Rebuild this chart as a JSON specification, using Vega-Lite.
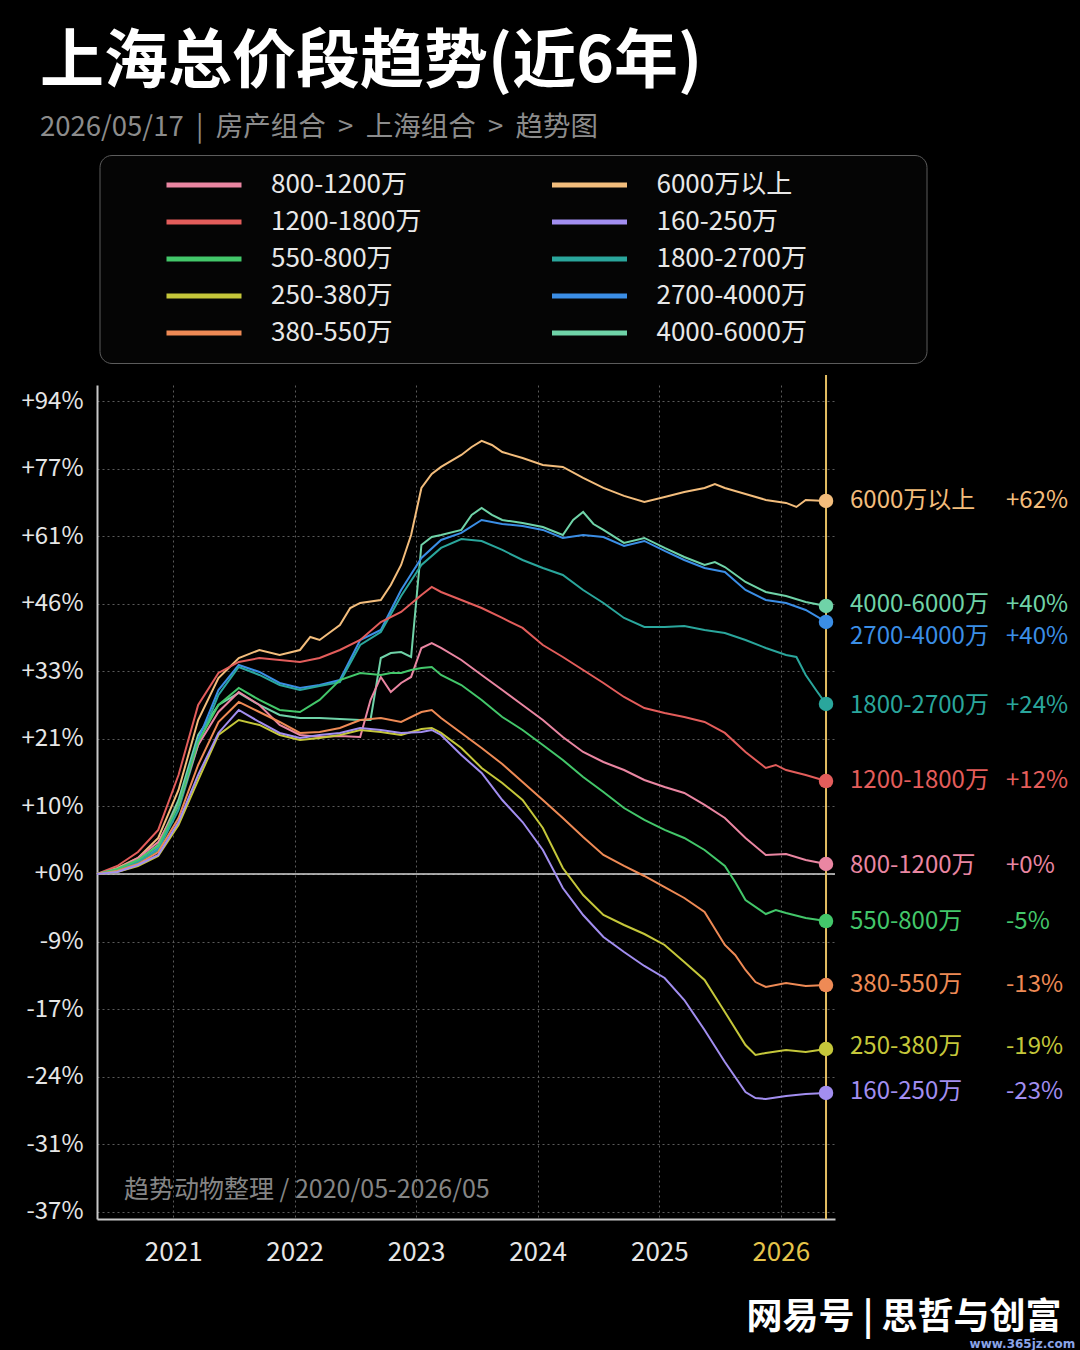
{
  "$schema": "https://vega.github.io/schema/vega-lite/v6.json",
  "description": "上海总价段趋势(近6年) - price index by total-price band, log scale",
  "background": "#000000",
  "autosize": {"type": "none"},
  "padding": {"left": 97, "top": 385, "right": 245, "bottom": 131},
  "width": 738,
  "height": 834,
  "title": {
    "text": "上海总价段趋势(近6年)",
    "subtitle": "2026/05/17\u00a0\u00a0|\u00a0\u00a0房产组合\u00a0\u00a0>\u00a0\u00a0上海组合\u00a0\u00a0>\u00a0\u00a0趋势图",
    "anchor": "start",
    "frame": "group",
    "dx": -57,
    "offset": 13,
    "font": "Noto Sans CJK SC",
    "fontSize": 64,
    "fontWeight": "bold",
    "color": "#ffffff",
    "subtitleFont": "Noto Sans CJK SC",
    "subtitleFontSize": 27.5,
    "subtitleColor": "#8c8c8c",
    "subtitlePadding": 19
  },
  "config": {
    "view": {"stroke": null},
    "font": "Noto Sans CJK SC",
    "axis": {
      "gridColor": "#5a5a5a",
      "gridDash": [2, 3],
      "gridWidth": 1,
      "domainColor": "#c8c8c8",
      "domainWidth": 2,
      "ticks": false,
      "labelFont": "Noto Sans CJK SC",
      "labelColor": "#e6e6e6",
      "title": null
    }
  },
  "datasets": {
    "series": [
      {"s": "6000万以上", "d": "2020-05-17", "v": 1.0},
      {"s": "6000万以上", "d": "2020-07-17", "v": 1.0085},
      {"s": "6000万以上", "d": "2020-09-17", "v": 1.0228},
      {"s": "6000万以上", "d": "2020-11-17", "v": 1.0521},
      {"s": "6000万以上", "d": "2021-01-17", "v": 1.1258},
      {"s": "6000万以上", "d": "2021-03-17", "v": 1.2427},
      {"s": "6000万以上", "d": "2021-05-17", "v": 1.3186},
      {"s": "6000万以上", "d": "2021-07-17", "v": 1.3563},
      {"s": "6000万以上", "d": "2021-09-17", "v": 1.3717},
      {"s": "6000万以上", "d": "2021-11-17", "v": 1.3621},
      {"s": "6000万以上", "d": "2022-01-17", "v": 1.3717},
      {"s": "6000万以上", "d": "2022-02-17", "v": 1.3971},
      {"s": "6000万以上", "d": "2022-03-17", "v": 1.3912},
      {"s": "6000万以上", "d": "2022-05-17", "v": 1.4209},
      {"s": "6000万以上", "d": "2022-06-17", "v": 1.4554},
      {"s": "6000万以上", "d": "2022-07-17", "v": 1.4658},
      {"s": "6000万以上", "d": "2022-09-17", "v": 1.472},
      {"s": "6000万以上", "d": "2022-10-17", "v": 1.5035},
      {"s": "6000万以上", "d": "2022-11-17", "v": 1.5465},
      {"s": "6000万以上", "d": "2022-12-17", "v": 1.6134},
      {"s": "6000万以上", "d": "2023-01-17", "v": 1.7241},
      {"s": "6000万以上", "d": "2023-02-17", "v": 1.7584},
      {"s": "6000万以上", "d": "2023-03-17", "v": 1.776},
      {"s": "6000万以上", "d": "2023-05-17", "v": 1.8063},
      {"s": "6000万以上", "d": "2023-06-17", "v": 1.8267},
      {"s": "6000万以上", "d": "2023-07-17", "v": 1.8423},
      {"s": "6000万以上", "d": "2023-08-17", "v": 1.8319},
      {"s": "6000万以上", "d": "2023-09-17", "v": 1.8138},
      {"s": "6000万以上", "d": "2023-11-17", "v": 1.7986},
      {"s": "6000万以上", "d": "2024-01-17", "v": 1.781},
      {"s": "6000万以上", "d": "2024-03-17", "v": 1.776},
      {"s": "6000万以上", "d": "2024-05-17", "v": 1.7487},
      {"s": "6000万以上", "d": "2024-07-17", "v": 1.7241},
      {"s": "6000万以上", "d": "2024-09-17", "v": 1.7048},
      {"s": "6000万以上", "d": "2024-11-17", "v": 1.6903},
      {"s": "6000万以上", "d": "2025-01-17", "v": 1.7023},
      {"s": "6000万以上", "d": "2025-03-17", "v": 1.7144},
      {"s": "6000万以上", "d": "2025-05-17", "v": 1.7241},
      {"s": "6000万以上", "d": "2025-06-17", "v": 1.7338},
      {"s": "6000万以上", "d": "2025-07-17", "v": 1.7241},
      {"s": "6000万以上", "d": "2025-09-17", "v": 1.7096},
      {"s": "6000万以上", "d": "2025-11-17", "v": 1.6952},
      {"s": "6000万以上", "d": "2026-01-17", "v": 1.688},
      {"s": "6000万以上", "d": "2026-02-17", "v": 1.6785},
      {"s": "6000万以上", "d": "2026-03-17", "v": 1.6952},
      {"s": "6000万以上", "d": "2026-05-17", "v": 1.6927},

      {"s": "4000-6000万", "d": "2020-05-17", "v": 1.0},
      {"s": "4000-6000万", "d": "2020-07-17", "v": 1.0071},
      {"s": "4000-6000万", "d": "2020-09-17", "v": 1.02},
      {"s": "4000-6000万", "d": "2020-11-17", "v": 1.0418},
      {"s": "4000-6000万", "d": "2021-01-17", "v": 1.11},
      {"s": "4000-6000万", "d": "2021-03-17", "v": 1.2167},
      {"s": "4000-6000万", "d": "2021-05-17", "v": 1.2693},
      {"s": "4000-6000万", "d": "2021-07-17", "v": 1.291},
      {"s": "4000-6000万", "d": "2021-09-17", "v": 1.2693},
      {"s": "4000-6000万", "d": "2021-11-17", "v": 1.2515},
      {"s": "4000-6000万", "d": "2022-01-17", "v": 1.2462},
      {"s": "4000-6000万", "d": "2022-03-17", "v": 1.2462},
      {"s": "4000-6000万", "d": "2022-05-17", "v": 1.2445},
      {"s": "4000-6000万", "d": "2022-07-17", "v": 1.2427},
      {"s": "4000-6000万", "d": "2022-08-17", "v": 1.2427},
      {"s": "4000-6000万", "d": "2022-09-17", "v": 1.3563},
      {"s": "4000-6000万", "d": "2022-10-17", "v": 1.3659},
      {"s": "4000-6000万", "d": "2022-11-17", "v": 1.3678},
      {"s": "4000-6000万", "d": "2022-12-17", "v": 1.3582},
      {"s": "4000-6000万", "d": "2023-01-17", "v": 1.5908},
      {"s": "4000-6000万", "d": "2023-02-17", "v": 1.6088},
      {"s": "4000-6000万", "d": "2023-03-17", "v": 1.6134},
      {"s": "4000-6000万", "d": "2023-05-17", "v": 1.6249},
      {"s": "4000-6000万", "d": "2023-06-17", "v": 1.6597},
      {"s": "4000-6000万", "d": "2023-07-17", "v": 1.6761},
      {"s": "4000-6000万", "d": "2023-08-17", "v": 1.6597},
      {"s": "4000-6000万", "d": "2023-09-17", "v": 1.6478},
      {"s": "4000-6000万", "d": "2023-11-17", "v": 1.6409},
      {"s": "4000-6000万", "d": "2024-01-17", "v": 1.6316},
      {"s": "4000-6000万", "d": "2024-03-17", "v": 1.6134},
      {"s": "4000-6000万", "d": "2024-04-17", "v": 1.6478},
      {"s": "4000-6000万", "d": "2024-05-17", "v": 1.6666},
      {"s": "4000-6000万", "d": "2024-06-17", "v": 1.6386},
      {"s": "4000-6000万", "d": "2024-07-17", "v": 1.6249},
      {"s": "4000-6000万", "d": "2024-09-17", "v": 1.5953},
      {"s": "4000-6000万", "d": "2024-11-17", "v": 1.6066},
      {"s": "4000-6000万", "d": "2025-01-17", "v": 1.5841},
      {"s": "4000-6000万", "d": "2025-03-17", "v": 1.5641},
      {"s": "4000-6000万", "d": "2025-05-17", "v": 1.5465},
      {"s": "4000-6000万", "d": "2025-06-17", "v": 1.553},
      {"s": "4000-6000万", "d": "2025-07-17", "v": 1.5421},
      {"s": "4000-6000万", "d": "2025-09-17", "v": 1.5099},
      {"s": "4000-6000万", "d": "2025-11-17", "v": 1.4887},
      {"s": "4000-6000万", "d": "2026-01-17", "v": 1.4804},
      {"s": "4000-6000万", "d": "2026-03-17", "v": 1.4679},
      {"s": "4000-6000万", "d": "2026-05-17", "v": 1.4596},

      {"s": "2700-4000万", "d": "2020-05-17", "v": 1.0},
      {"s": "2700-4000万", "d": "2020-07-17", "v": 1.0056},
      {"s": "2700-4000万", "d": "2020-09-17", "v": 1.0171},
      {"s": "2700-4000万", "d": "2020-11-17", "v": 1.0374},
      {"s": "2700-4000万", "d": "2021-01-17", "v": 1.1023},
      {"s": "2700-4000万", "d": "2021-03-17", "v": 1.2082},
      {"s": "2700-4000万", "d": "2021-05-17", "v": 1.2964},
      {"s": "2700-4000万", "d": "2021-07-17", "v": 1.343},
      {"s": "2700-4000万", "d": "2021-09-17", "v": 1.3298},
      {"s": "2700-4000万", "d": "2021-11-17", "v": 1.3093},
      {"s": "2700-4000万", "d": "2022-01-17", "v": 1.3001},
      {"s": "2700-4000万", "d": "2022-03-17", "v": 1.3056},
      {"s": "2700-4000万", "d": "2022-05-17", "v": 1.3148},
      {"s": "2700-4000万", "d": "2022-07-17", "v": 1.3912},
      {"s": "2700-4000万", "d": "2022-09-17", "v": 1.411},
      {"s": "2700-4000万", "d": "2022-11-17", "v": 1.4929},
      {"s": "2700-4000万", "d": "2023-01-17", "v": 1.5619},
      {"s": "2700-4000万", "d": "2023-03-17", "v": 1.6021},
      {"s": "2700-4000万", "d": "2023-05-17", "v": 1.618},
      {"s": "2700-4000万", "d": "2023-07-17", "v": 1.6478},
      {"s": "2700-4000万", "d": "2023-09-17", "v": 1.6386},
      {"s": "2700-4000万", "d": "2023-11-17", "v": 1.634},
      {"s": "2700-4000万", "d": "2024-01-17", "v": 1.6249},
      {"s": "2700-4000万", "d": "2024-03-17", "v": 1.6066},
      {"s": "2700-4000万", "d": "2024-05-17", "v": 1.6134},
      {"s": "2700-4000万", "d": "2024-07-17", "v": 1.6088},
      {"s": "2700-4000万", "d": "2024-09-17", "v": 1.5886},
      {"s": "2700-4000万", "d": "2024-11-17", "v": 1.5998},
      {"s": "2700-4000万", "d": "2025-01-17", "v": 1.5774},
      {"s": "2700-4000万", "d": "2025-03-17", "v": 1.5575},
      {"s": "2700-4000万", "d": "2025-05-17", "v": 1.54},
      {"s": "2700-4000万", "d": "2025-07-17", "v": 1.5313},
      {"s": "2700-4000万", "d": "2025-09-17", "v": 1.4929},
      {"s": "2700-4000万", "d": "2025-11-17", "v": 1.472},
      {"s": "2700-4000万", "d": "2026-01-17", "v": 1.4658},
      {"s": "2700-4000万", "d": "2026-03-17", "v": 1.4514},
      {"s": "2700-4000万", "d": "2026-05-17", "v": 1.427},

      {"s": "1800-2700万", "d": "2020-05-17", "v": 1.0},
      {"s": "1800-2700万", "d": "2020-07-17", "v": 1.0056},
      {"s": "1800-2700万", "d": "2020-09-17", "v": 1.0171},
      {"s": "1800-2700万", "d": "2020-11-17", "v": 1.0345},
      {"s": "1800-2700万", "d": "2021-01-17", "v": 1.0945},
      {"s": "1800-2700万", "d": "2021-03-17", "v": 1.1996},
      {"s": "1800-2700万", "d": "2021-05-17", "v": 1.2874},
      {"s": "1800-2700万", "d": "2021-07-17", "v": 1.3392},
      {"s": "1800-2700万", "d": "2021-09-17", "v": 1.3242},
      {"s": "1800-2700万", "d": "2021-11-17", "v": 1.3056},
      {"s": "1800-2700万", "d": "2022-01-17", "v": 1.2964},
      {"s": "1800-2700万", "d": "2022-03-17", "v": 1.3038},
      {"s": "1800-2700万", "d": "2022-05-17", "v": 1.3111},
      {"s": "1800-2700万", "d": "2022-07-17", "v": 1.3814},
      {"s": "1800-2700万", "d": "2022-09-17", "v": 1.407},
      {"s": "1800-2700万", "d": "2022-11-17", "v": 1.4804},
      {"s": "1800-2700万", "d": "2023-01-17", "v": 1.5465},
      {"s": "1800-2700万", "d": "2023-03-17", "v": 1.5841},
      {"s": "1800-2700万", "d": "2023-05-17", "v": 1.6043},
      {"s": "1800-2700万", "d": "2023-07-17", "v": 1.5998},
      {"s": "1800-2700万", "d": "2023-09-17", "v": 1.5797},
      {"s": "1800-2700万", "d": "2023-11-17", "v": 1.5575},
      {"s": "1800-2700万", "d": "2024-01-17", "v": 1.54},
      {"s": "1800-2700万", "d": "2024-03-17", "v": 1.5249},
      {"s": "1800-2700万", "d": "2024-05-17", "v": 1.4929},
      {"s": "1800-2700万", "d": "2024-07-17", "v": 1.4658},
      {"s": "1800-2700万", "d": "2024-09-17", "v": 1.4351},
      {"s": "1800-2700万", "d": "2024-11-17", "v": 1.417},
      {"s": "1800-2700万", "d": "2025-01-17", "v": 1.417},
      {"s": "1800-2700万", "d": "2025-03-17", "v": 1.419},
      {"s": "1800-2700万", "d": "2025-05-17", "v": 1.411},
      {"s": "1800-2700万", "d": "2025-07-17", "v": 1.405},
      {"s": "1800-2700万", "d": "2025-09-17", "v": 1.3912},
      {"s": "1800-2700万", "d": "2025-11-17", "v": 1.3756},
      {"s": "1800-2700万", "d": "2026-01-17", "v": 1.3621},
      {"s": "1800-2700万", "d": "2026-02-17", "v": 1.3582},
      {"s": "1800-2700万", "d": "2026-03-17", "v": 1.3242},
      {"s": "1800-2700万", "d": "2026-04-17", "v": 1.2964},
      {"s": "1800-2700万", "d": "2026-05-17", "v": 1.2711},

      {"s": "1200-1800万", "d": "2020-05-17", "v": 1.0},
      {"s": "1200-1800万", "d": "2020-07-17", "v": 1.0114},
      {"s": "1200-1800万", "d": "2020-09-17", "v": 1.0315},
      {"s": "1200-1800万", "d": "2020-11-17", "v": 1.0641},
      {"s": "1200-1800万", "d": "2021-01-17", "v": 1.1499},
      {"s": "1200-1800万", "d": "2021-03-17", "v": 1.2693},
      {"s": "1200-1800万", "d": "2021-05-17", "v": 1.3279},
      {"s": "1200-1800万", "d": "2021-07-17", "v": 1.3487},
      {"s": "1200-1800万", "d": "2021-09-17", "v": 1.3563},
      {"s": "1200-1800万", "d": "2021-11-17", "v": 1.3525},
      {"s": "1200-1800万", "d": "2022-01-17", "v": 1.3487},
      {"s": "1200-1800万", "d": "2022-03-17", "v": 1.3563},
      {"s": "1200-1800万", "d": "2022-05-17", "v": 1.3717},
      {"s": "1200-1800万", "d": "2022-07-17", "v": 1.3912},
      {"s": "1200-1800万", "d": "2022-09-17", "v": 1.427},
      {"s": "1200-1800万", "d": "2022-11-17", "v": 1.4473},
      {"s": "1200-1800万", "d": "2023-01-17", "v": 1.4825},
      {"s": "1200-1800万", "d": "2023-02-17", "v": 1.4993},
      {"s": "1200-1800万", "d": "2023-03-17", "v": 1.4887},
      {"s": "1200-1800万", "d": "2023-05-17", "v": 1.472},
      {"s": "1200-1800万", "d": "2023-07-17", "v": 1.4554},
      {"s": "1200-1800万", "d": "2023-09-17", "v": 1.4351},
      {"s": "1200-1800万", "d": "2023-11-17", "v": 1.415},
      {"s": "1200-1800万", "d": "2024-01-17", "v": 1.3814},
      {"s": "1200-1800万", "d": "2024-03-17", "v": 1.3582},
      {"s": "1200-1800万", "d": "2024-05-17", "v": 1.3335},
      {"s": "1200-1800万", "d": "2024-07-17", "v": 1.3093},
      {"s": "1200-1800万", "d": "2024-09-17", "v": 1.2837},
      {"s": "1200-1800万", "d": "2024-11-17", "v": 1.2639},
      {"s": "1200-1800万", "d": "2025-01-17", "v": 1.2551},
      {"s": "1200-1800万", "d": "2025-03-17", "v": 1.248},
      {"s": "1200-1800万", "d": "2025-05-17", "v": 1.2392},
      {"s": "1200-1800万", "d": "2025-07-17", "v": 1.2202},
      {"s": "1200-1800万", "d": "2025-09-17", "v": 1.1878},
      {"s": "1200-1800万", "d": "2025-11-17", "v": 1.1614},
      {"s": "1200-1800万", "d": "2025-12-17", "v": 1.1663},
      {"s": "1200-1800万", "d": "2026-01-17", "v": 1.158},
      {"s": "1200-1800万", "d": "2026-03-17", "v": 1.1499},
      {"s": "1200-1800万", "d": "2026-05-17", "v": 1.1402},

      {"s": "800-1200万", "d": "2020-05-17", "v": 1.0},
      {"s": "800-1200万", "d": "2020-07-17", "v": 1.0071},
      {"s": "800-1200万", "d": "2020-09-17", "v": 1.0228},
      {"s": "800-1200万", "d": "2020-11-17", "v": 1.0462},
      {"s": "800-1200万", "d": "2021-01-17", "v": 1.1023},
      {"s": "800-1200万", "d": "2021-03-17", "v": 1.1996},
      {"s": "800-1200万", "d": "2021-05-17", "v": 1.2568},
      {"s": "800-1200万", "d": "2021-07-17", "v": 1.2928},
      {"s": "800-1200万", "d": "2021-09-17", "v": 1.2693},
      {"s": "800-1200万", "d": "2021-11-17", "v": 1.234},
      {"s": "800-1200万", "d": "2022-01-17", "v": 1.2167},
      {"s": "800-1200万", "d": "2022-03-17", "v": 1.2133},
      {"s": "800-1200万", "d": "2022-05-17", "v": 1.215},
      {"s": "800-1200万", "d": "2022-07-17", "v": 1.2133},
      {"s": "800-1200万", "d": "2022-08-17", "v": 1.2783},
      {"s": "800-1200万", "d": "2022-09-17", "v": 1.3205},
      {"s": "800-1200万", "d": "2022-10-17", "v": 1.2928},
      {"s": "800-1200万", "d": "2022-11-17", "v": 1.3093},
      {"s": "800-1200万", "d": "2022-12-17", "v": 1.3205},
      {"s": "800-1200万", "d": "2023-01-17", "v": 1.3756},
      {"s": "800-1200万", "d": "2023-02-17", "v": 1.3853},
      {"s": "800-1200万", "d": "2023-03-17", "v": 1.3756},
      {"s": "800-1200万", "d": "2023-05-17", "v": 1.3525},
      {"s": "800-1200万", "d": "2023-07-17", "v": 1.3242},
      {"s": "800-1200万", "d": "2023-09-17", "v": 1.2964},
      {"s": "800-1200万", "d": "2023-11-17", "v": 1.2693},
      {"s": "800-1200万", "d": "2024-01-17", "v": 1.2427},
      {"s": "800-1200万", "d": "2024-03-17", "v": 1.2133},
      {"s": "800-1200万", "d": "2024-05-17", "v": 1.1878},
      {"s": "800-1200万", "d": "2024-07-17", "v": 1.1712},
      {"s": "800-1200万", "d": "2024-09-17", "v": 1.158},
      {"s": "800-1200万", "d": "2024-11-17", "v": 1.1418},
      {"s": "800-1200万", "d": "2025-01-17", "v": 1.1306},
      {"s": "800-1200万", "d": "2025-03-17", "v": 1.1211},
      {"s": "800-1200万", "d": "2025-05-17", "v": 1.1023},
      {"s": "800-1200万", "d": "2025-07-17", "v": 1.0822},
      {"s": "800-1200万", "d": "2025-09-17", "v": 1.0521},
      {"s": "800-1200万", "d": "2025-11-17", "v": 1.0272},
      {"s": "800-1200万", "d": "2026-01-17", "v": 1.0286},
      {"s": "800-1200万", "d": "2026-03-17", "v": 1.02},
      {"s": "800-1200万", "d": "2026-05-17", "v": 1.0142},

      {"s": "550-800万", "d": "2020-05-17", "v": 1.0},
      {"s": "550-800万", "d": "2020-07-17", "v": 1.0071},
      {"s": "550-800万", "d": "2020-09-17", "v": 1.02},
      {"s": "550-800万", "d": "2020-11-17", "v": 1.0403},
      {"s": "550-800万", "d": "2021-01-17", "v": 1.1023},
      {"s": "550-800万", "d": "2021-03-17", "v": 1.2047},
      {"s": "550-800万", "d": "2021-05-17", "v": 1.2693},
      {"s": "550-800万", "d": "2021-07-17", "v": 1.3001},
      {"s": "550-800万", "d": "2021-09-17", "v": 1.2783},
      {"s": "550-800万", "d": "2021-11-17", "v": 1.2604},
      {"s": "550-800万", "d": "2022-01-17", "v": 1.2568},
      {"s": "550-800万", "d": "2022-03-17", "v": 1.2783},
      {"s": "550-800万", "d": "2022-05-17", "v": 1.3148},
      {"s": "550-800万", "d": "2022-07-17", "v": 1.3279},
      {"s": "550-800万", "d": "2022-09-17", "v": 1.3242},
      {"s": "550-800万", "d": "2022-10-17", "v": 1.3279},
      {"s": "550-800万", "d": "2022-11-17", "v": 1.3279},
      {"s": "550-800万", "d": "2022-12-17", "v": 1.3335},
      {"s": "550-800万", "d": "2023-01-17", "v": 1.3373},
      {"s": "550-800万", "d": "2023-02-17", "v": 1.3392},
      {"s": "550-800万", "d": "2023-03-17", "v": 1.3242},
      {"s": "550-800万", "d": "2023-05-17", "v": 1.3056},
      {"s": "550-800万", "d": "2023-07-17", "v": 1.2783},
      {"s": "550-800万", "d": "2023-09-17", "v": 1.248},
      {"s": "550-800万", "d": "2023-11-17", "v": 1.2253},
      {"s": "550-800万", "d": "2024-01-17", "v": 1.1996},
      {"s": "550-800万", "d": "2024-03-17", "v": 1.1745},
      {"s": "550-800万", "d": "2024-05-17", "v": 1.1467},
      {"s": "550-800万", "d": "2024-07-17", "v": 1.1227},
      {"s": "550-800万", "d": "2024-09-17", "v": 1.0976},
      {"s": "550-800万", "d": "2024-11-17", "v": 1.0792},
      {"s": "550-800万", "d": "2025-01-17", "v": 1.0641},
      {"s": "550-800万", "d": "2025-03-17", "v": 1.0521},
      {"s": "550-800万", "d": "2025-05-17", "v": 1.0345},
      {"s": "550-800万", "d": "2025-07-17", "v": 1.0114},
      {"s": "550-800万", "d": "2025-08-17", "v": 0.9888},
      {"s": "550-800万", "d": "2025-09-17", "v": 0.964},
      {"s": "550-800万", "d": "2025-11-17", "v": 0.9451},
      {"s": "550-800万", "d": "2025-12-17", "v": 0.9505},
      {"s": "550-800万", "d": "2026-01-17", "v": 0.9465},
      {"s": "550-800万", "d": "2026-03-17", "v": 0.9398},
      {"s": "550-800万", "d": "2026-05-17", "v": 0.9358},

      {"s": "380-550万", "d": "2020-05-17", "v": 1.0},
      {"s": "380-550万", "d": "2020-07-17", "v": 1.0042},
      {"s": "380-550万", "d": "2020-09-17", "v": 1.0142},
      {"s": "380-550万", "d": "2020-11-17", "v": 1.0315},
      {"s": "380-550万", "d": "2021-01-17", "v": 1.0822},
      {"s": "380-550万", "d": "2021-03-17", "v": 1.1663},
      {"s": "380-550万", "d": "2021-05-17", "v": 1.2392},
      {"s": "380-550万", "d": "2021-07-17", "v": 1.2747},
      {"s": "380-550万", "d": "2021-09-17", "v": 1.2568},
      {"s": "380-550万", "d": "2021-11-17", "v": 1.2392},
      {"s": "380-550万", "d": "2022-01-17", "v": 1.2202},
      {"s": "380-550万", "d": "2022-03-17", "v": 1.2219},
      {"s": "380-550万", "d": "2022-05-17", "v": 1.2288},
      {"s": "380-550万", "d": "2022-07-17", "v": 1.2427},
      {"s": "380-550万", "d": "2022-09-17", "v": 1.2462},
      {"s": "380-550万", "d": "2022-11-17", "v": 1.2392},
      {"s": "380-550万", "d": "2023-01-17", "v": 1.2568},
      {"s": "380-550万", "d": "2023-02-17", "v": 1.2604},
      {"s": "380-550万", "d": "2023-03-17", "v": 1.2462},
      {"s": "380-550万", "d": "2023-05-17", "v": 1.2202},
      {"s": "380-550万", "d": "2023-07-17", "v": 1.1946},
      {"s": "380-550万", "d": "2023-09-17", "v": 1.1679},
      {"s": "380-550万", "d": "2023-11-17", "v": 1.1386},
      {"s": "380-550万", "d": "2024-01-17", "v": 1.11},
      {"s": "380-550万", "d": "2024-03-17", "v": 1.0822},
      {"s": "380-550万", "d": "2024-05-17", "v": 1.0536},
      {"s": "380-550万", "d": "2024-07-17", "v": 1.0272},
      {"s": "380-550万", "d": "2024-09-17", "v": 1.0114},
      {"s": "380-550万", "d": "2024-11-17", "v": 0.9972},
      {"s": "380-550万", "d": "2025-01-17", "v": 0.9818},
      {"s": "380-550万", "d": "2025-03-17", "v": 0.9667},
      {"s": "380-550万", "d": "2025-05-17", "v": 0.9478},
      {"s": "380-550万", "d": "2025-07-17", "v": 0.9047},
      {"s": "380-550万", "d": "2025-08-17", "v": 0.892},
      {"s": "380-550万", "d": "2025-09-17", "v": 0.8733},
      {"s": "380-550万", "d": "2025-10-17", "v": 0.8586},
      {"s": "380-550万", "d": "2025-11-17", "v": 0.8526},
      {"s": "380-550万", "d": "2026-01-17", "v": 0.8574},
      {"s": "380-550万", "d": "2026-03-17", "v": 0.8538},
      {"s": "380-550万", "d": "2026-05-17", "v": 0.855},

      {"s": "250-380万", "d": "2020-05-17", "v": 1.0},
      {"s": "250-380万", "d": "2020-07-17", "v": 1.0028},
      {"s": "250-380万", "d": "2020-09-17", "v": 1.0114},
      {"s": "250-380万", "d": "2020-11-17", "v": 1.0257},
      {"s": "250-380万", "d": "2021-01-17", "v": 1.0716},
      {"s": "250-380万", "d": "2021-03-17", "v": 1.1418},
      {"s": "250-380万", "d": "2021-05-17", "v": 1.2167},
      {"s": "250-380万", "d": "2021-07-17", "v": 1.2427},
      {"s": "250-380万", "d": "2021-09-17", "v": 1.234},
      {"s": "250-380万", "d": "2021-11-17", "v": 1.2167},
      {"s": "250-380万", "d": "2022-01-17", "v": 1.2082},
      {"s": "250-380万", "d": "2022-03-17", "v": 1.2116},
      {"s": "250-380万", "d": "2022-05-17", "v": 1.2167},
      {"s": "250-380万", "d": "2022-07-17", "v": 1.2253},
      {"s": "250-380万", "d": "2022-09-17", "v": 1.2219},
      {"s": "250-380万", "d": "2022-11-17", "v": 1.2167},
      {"s": "250-380万", "d": "2023-01-17", "v": 1.227},
      {"s": "250-380万", "d": "2023-02-17", "v": 1.2288},
      {"s": "250-380万", "d": "2023-03-17", "v": 1.2202},
      {"s": "250-380万", "d": "2023-05-17", "v": 1.1946},
      {"s": "250-380万", "d": "2023-07-17", "v": 1.1614},
      {"s": "250-380万", "d": "2023-09-17", "v": 1.137},
      {"s": "250-380万", "d": "2023-11-17", "v": 1.11},
      {"s": "250-380万", "d": "2024-01-17", "v": 1.0671},
      {"s": "250-380万", "d": "2024-03-17", "v": 1.0085},
      {"s": "250-380万", "d": "2024-05-17", "v": 0.9708},
      {"s": "250-380万", "d": "2024-07-17", "v": 0.9438},
      {"s": "250-380万", "d": "2024-09-17", "v": 0.9306},
      {"s": "250-380万", "d": "2024-11-17", "v": 0.9188},
      {"s": "250-380万", "d": "2025-01-17", "v": 0.9047},
      {"s": "250-380万", "d": "2025-03-17", "v": 0.8832},
      {"s": "250-380万", "d": "2025-05-17", "v": 0.8611},
      {"s": "250-380万", "d": "2025-07-17", "v": 0.8231},
      {"s": "250-380万", "d": "2025-09-17", "v": 0.7856},
      {"s": "250-380万", "d": "2025-10-17", "v": 0.7746},
      {"s": "250-380万", "d": "2025-11-17", "v": 0.7768},
      {"s": "250-380万", "d": "2026-01-17", "v": 0.7801},
      {"s": "250-380万", "d": "2026-03-17", "v": 0.7779},
      {"s": "250-380万", "d": "2026-05-17", "v": 0.7812},

      {"s": "160-250万", "d": "2020-05-17", "v": 1.0},
      {"s": "160-250万", "d": "2020-07-17", "v": 1.0028},
      {"s": "160-250万", "d": "2020-09-17", "v": 1.0128},
      {"s": "160-250万", "d": "2020-11-17", "v": 1.0272},
      {"s": "160-250万", "d": "2021-01-17", "v": 1.0761},
      {"s": "160-250万", "d": "2021-03-17", "v": 1.1499},
      {"s": "160-250万", "d": "2021-05-17", "v": 1.2202},
      {"s": "160-250万", "d": "2021-07-17", "v": 1.2604},
      {"s": "160-250万", "d": "2021-09-17", "v": 1.2392},
      {"s": "160-250万", "d": "2021-11-17", "v": 1.2202},
      {"s": "160-250万", "d": "2022-01-17", "v": 1.2116},
      {"s": "160-250万", "d": "2022-03-17", "v": 1.2167},
      {"s": "160-250万", "d": "2022-05-17", "v": 1.2202},
      {"s": "160-250万", "d": "2022-07-17", "v": 1.2288},
      {"s": "160-250万", "d": "2022-09-17", "v": 1.2253},
      {"s": "160-250万", "d": "2022-11-17", "v": 1.2202},
      {"s": "160-250万", "d": "2023-01-17", "v": 1.2219},
      {"s": "160-250万", "d": "2023-02-17", "v": 1.2253},
      {"s": "160-250万", "d": "2023-03-17", "v": 1.2167},
      {"s": "160-250万", "d": "2023-05-17", "v": 1.1828},
      {"s": "160-250万", "d": "2023-07-17", "v": 1.1532},
      {"s": "160-250万", "d": "2023-09-17", "v": 1.11},
      {"s": "160-250万", "d": "2023-11-17", "v": 1.0761},
      {"s": "160-250万", "d": "2024-01-17", "v": 1.0345},
      {"s": "160-250万", "d": "2024-03-17", "v": 0.9804},
      {"s": "160-250万", "d": "2024-05-17", "v": 0.9438},
      {"s": "160-250万", "d": "2024-07-17", "v": 0.9149},
      {"s": "160-250万", "d": "2024-09-17", "v": 0.8958},
      {"s": "160-250万", "d": "2024-11-17", "v": 0.8783},
      {"s": "160-250万", "d": "2025-01-17", "v": 0.8635},
      {"s": "160-250万", "d": "2025-03-17", "v": 0.8371},
      {"s": "160-250万", "d": "2025-05-17", "v": 0.8024},
      {"s": "160-250万", "d": "2025-07-17", "v": 0.767},
      {"s": "160-250万", "d": "2025-09-17", "v": 0.7352},
      {"s": "160-250万", "d": "2025-10-17", "v": 0.729},
      {"s": "160-250万", "d": "2025-11-17", "v": 0.728},
      {"s": "160-250万", "d": "2026-01-17", "v": 0.7311},
      {"s": "160-250万", "d": "2026-03-17", "v": 0.7331},
      {"s": "160-250万", "d": "2026-05-17", "v": 0.7342}
    ],
    "ends": [
      {"s": "6000万以上", "d": "2026-05-17", "v": 1.6927, "lv": 1.6927, "pct": "+62%"},
      {"s": "4000-6000万", "d": "2026-05-17", "v": 1.4596, "lv": 1.4616, "pct": "+40%"},
      {"s": "2700-4000万", "d": "2026-05-17", "v": 1.427, "lv": 1.3971, "pct": "+40%"},
      {"s": "1800-2700万", "d": "2026-05-17", "v": 1.2711, "lv": 1.2675, "pct": "+24%"},
      {"s": "1200-1800万", "d": "2026-05-17", "v": 1.1402, "lv": 1.1402, "pct": "+12%"},
      {"s": "800-1200万", "d": "2026-05-17", "v": 1.0142, "lv": 1.0113, "pct": "+0%"},
      {"s": "550-800万", "d": "2026-05-17", "v": 0.9358, "lv": 0.9345, "pct": "-5%"},
      {"s": "380-550万", "d": "2026-05-17", "v": 0.855, "lv": 0.855, "pct": "-13%"},
      {"s": "250-380万", "d": "2026-05-17", "v": 0.7812, "lv": 0.7834, "pct": "-19%"},
      {"s": "160-250万", "d": "2026-05-17", "v": 0.7342, "lv": 0.7352, "pct": "-23%"}
    ]
  },
  "layer": [
    {
      "data": {"values": [{}]},
      "mark": {"type": "rule", "color": "#d4d4d4", "strokeWidth": 1.5},
      "encoding": {"y": {"datum": 1, "type": "quantitative"}}
    },
    {
      "data": {"name": "series"},
      "mark": {"type": "line", "strokeWidth": 2, "interpolate": "linear"},
      "encoding": {
        "x": {
          "field": "d",
          "type": "temporal",
          "scale": {"domain": [{"year": 2020, "month": 5, "date": 17}, {"year": 2026, "month": 6, "date": 13}], "nice": false},
          "axis": {
            "values": [
              {"year": 2021, "month": 1, "date": 1},
              {"year": 2022, "month": 1, "date": 1},
              {"year": 2023, "month": 1, "date": 1},
              {"year": 2024, "month": 1, "date": 1},
              {"year": 2025, "month": 1, "date": 1},
              {"year": 2026, "month": 1, "date": 1}
            ],
            "format": "%Y",
            "labelFontSize": 26,
            "labelPadding": 20,
            "labelColor": {"condition": {"test": "year(datum.value) === 2026", "value": "#e6c44a"}, "value": "#e6e6e6"},
            "grid": true
          }
        },
        "y": {
          "field": "v",
          "type": "quantitative",
          "scale": {"type": "log", "domain": [0.6146, 1.9936], "nice": false},
          "axis": {
            "values": [0.6209213, 0.6830135, 0.7513148, 0.8264463, 0.9090909, 1, 1.1, 1.21, 1.331, 1.4641, 1.61051, 1.771561, 1.9487171],
            "labelExpr": "(datum.value >= 0.9999 ? '+' : '-') + floor(abs(datum.value - 1) * 100 + 0.0001) + '%'",
            "labelFontSize": 24,
            "labelPadding": 14,
            "grid": true
          }
        },
        "color": {
          "field": "s",
          "type": "nominal",
          "scale": {
            "domain": ["800-1200万", "1200-1800万", "550-800万", "250-380万", "380-550万", "6000万以上", "160-250万", "1800-2700万", "2700-4000万", "4000-6000万"],
            "range": ["#ea86a2", "#e35d5b", "#43c76a", "#c5c73a", "#ee8a55", "#f3bd7c", "#a28ef0", "#2aa69c", "#3b8ee6", "#6fd3a8"]
          },
          "legend": {
            "orient": "none",
            "legendX": 2.5,
            "legendY": -230,
            "columns": 2,
            "title": ".",
            "titleOrient": "right",
            "titlePadding": 101,
            "titleFontSize": 10,
            "titleColor": "#050505",
            "symbolType": "stroke",
            "symbolSize": 5625,
            "symbolStrokeWidth": 5,
            "clipHeight": 30,
            "rowPadding": 7,
            "columnPadding": 78.5,
            "symbolOffset": 49.5,
            "labelOffset": 27,
            "labelFont": "Noto Sans CJK SC",
            "labelFontSize": 26,
            "labelColor": "#e8e8e8",
            "labelLimit": 500,
            "padding": 15,
            "fillColor": "#050505",
            "strokeColor": "#5c5c5c",
            "cornerRadius": 12
          }
        }
      }
    },
    {
      "data": {"values": [{}]},
      "mark": {"type": "rule", "color": "#e3bd62", "strokeWidth": 2},
      "encoding": {
        "x": {"datum": {"year": 2026, "month": 5, "date": 17}, "type": "temporal"},
        "y": {"datum": 2.022, "type": "quantitative"},
        "y2": {"datum": 0.6146}
      }
    },
    {
      "data": {"name": "ends"},
      "mark": {"type": "circle", "size": 210, "opacity": 1},
      "encoding": {
        "x": {"field": "d", "type": "temporal"},
        "y": {"field": "v", "type": "quantitative"},
        "color": {"field": "s", "type": "nominal", "legend": null}
      }
    },
    {
      "data": {"name": "ends"},
      "mark": {"type": "text", "align": "left", "baseline": "middle", "dx": 24, "fontSize": 24, "font": "Noto Sans CJK SC"},
      "encoding": {
        "x": {"field": "d", "type": "temporal"},
        "y": {"field": "lv", "type": "quantitative"},
        "text": {"field": "s"},
        "color": {"field": "s", "type": "nominal", "legend": null}
      }
    },
    {
      "data": {"name": "ends"},
      "mark": {"type": "text", "align": "left", "baseline": "middle", "dx": 180, "fontSize": 24, "font": "Noto Sans CJK SC"},
      "encoding": {
        "x": {"field": "d", "type": "temporal"},
        "y": {"field": "lv", "type": "quantitative"},
        "text": {"field": "pct"},
        "color": {"field": "s", "type": "nominal", "legend": null}
      }
    },
    {
      "data": {"values": [{}]},
      "mark": {"type": "text", "align": "left", "baseline": "middle", "fontSize": 25, "color": "#858585", "font": "Noto Sans CJK SC", "text": "趋势动物整理 / 2020/05-2026/05"},
      "encoding": {
        "x": {"datum": {"year": 2020, "month": 8, "date": 6}, "type": "temporal"},
        "y": {"datum": 0.6402, "type": "quantitative"}
      }
    },
    {
      "data": {"values": [{}]},
      "mark": {"type": "text", "align": "right", "baseline": "middle", "fontSize": 36, "fontWeight": "bold", "color": "#ffffff", "font": "Noto Sans CJK SC", "text": "网易号 | 思哲与创富"},
      "encoding": {
        "x": {"datum": {"year": 2028, "month": 4, "date": 24}, "type": "temporal"},
        "y": {"datum": 0.5345, "type": "quantitative"}
      }
    },
    {
      "data": {"values": [{}]},
      "mark": {"type": "text", "align": "right", "baseline": "middle", "fontSize": 12, "fontWeight": "bold", "color": "#8aa4e8", "font": "DejaVu Sans", "text": "www.365jz.com"},
      "encoding": {
        "x": {"datum": {"year": 2028, "month": 6, "date": 4}, "type": "temporal"},
        "y": {"datum": 0.5155, "type": "quantitative"}
      }
    }
  ]
}
